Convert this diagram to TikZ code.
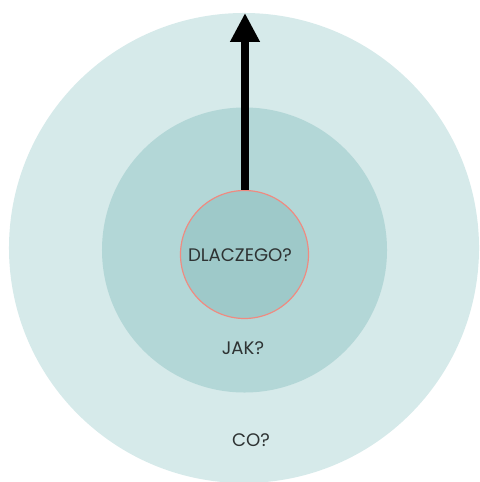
\documentclass[tikz,border=0pt]{standalone}
\usepackage{fontspec}
\setmainfont{Poppins}
\usepackage{tikz}
\usetikzlibrary{arrows.meta}
\definecolor{ringout}{HTML}{D6EAEA}
\definecolor{ringmid}{HTML}{B3D7D7}
\definecolor{ringin}{HTML}{9EC9C9}
\definecolor{ringedge}{HTML}{F08A80}
\definecolor{txt}{HTML}{2E3333}

\begin{document}
\begin{tikzpicture}[
  x=0.03cm,y=-0.03cm,
  every node/.style={font=\fontsize{15.5}{18}\selectfont,text=txt},
  ring/.style={circle,inner sep=0pt},
  arrow/.style={-{Triangle[length=0.87cm,width=0.84cm]},line width=0.26cm}
]
  \useasboundingbox (0,0) rectangle (479,482);
  \clip (0,0) rectangle (479,482);
  \node[ring,fill=ringout,minimum size=14.1cm] (co) at (244,248) {};
  \node[ring,fill=ringmid,minimum size=8.55cm] (jak) at (244.5,250) {};
  \node[ring,fill=ringin,draw=ringedge,line width=1pt,minimum size=3.84cm] (dlaczego) at (244.5,254.5) {};
  \node (dlaczegotext) at (240,255) {DLACZEGO?};
  \node (jaktext) at (243,348) {JAK?};
  \node (cotext) at (251,440) {CO?};
  \coordinate (tip) at (245,13);
  \draw[arrow] (dlaczego.north) ++(0.5,0) -- (tip);
\end{tikzpicture}
\end{document}
